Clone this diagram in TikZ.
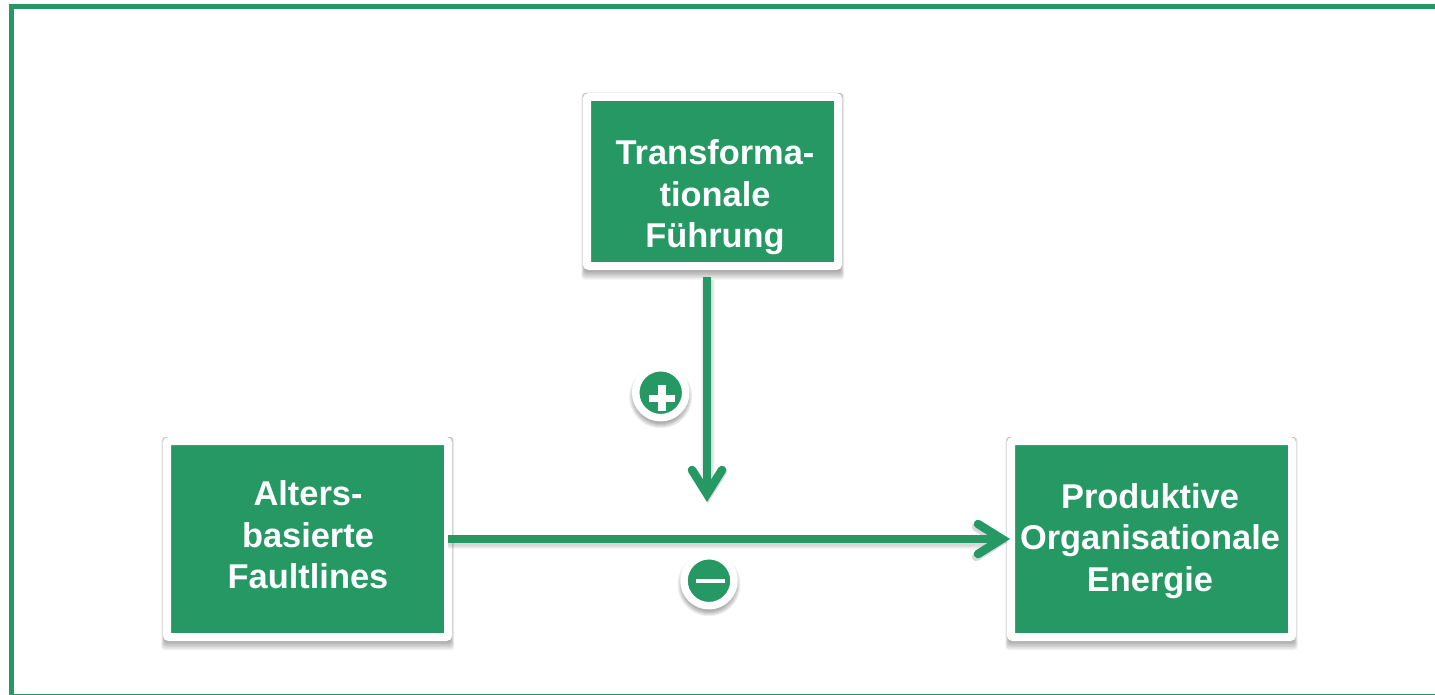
\documentclass[tikz,border=0pt]{standalone}
\usepackage{fontspec}
\setmainfont{Liberation Sans}
\usetikzlibrary{arrows.meta}
\definecolor{fg}{HTML}{269863}
\tikzset{
  x=1pt,y=-1pt,
  box/.style={fill=fg,draw=white,line width=8pt,rounded corners=2pt,inner sep=0pt,outer sep=4pt},
  boxtext/.style={text=white,font=\fontsize{34.4}{41.5}\selectfont\bfseries,align=center,inner sep=0pt},
  badge/.style={circle,fill=fg,draw=white,line width=7.5pt,minimum size=50pt,inner sep=0pt},
  conn/.style={draw=fg,line width=8pt,-{Straight Barb[length=24pt,width=30pt,line width=8.5pt,line cap=round,line join=miter]}},
  connshadow/.style={draw=black,opacity=.04,-{Straight Barb[length=24pt,width=30pt,line width=8.5pt,line cap=round,line join=miter]}},
  frameline/.style={draw=fg,line width=5.4pt},
  glyph/.style={fill=white,draw=none},
}
\newcommand{\softrect}[4]{%
  \foreach \d in {0,1,...,6}{
    \fill[black,opacity=.06,rounded corners=3pt] (#1+2-0.6*\d,#2) rectangle (#3-2+0.6*\d,#4+1.5*\d);
  }}
\newcommand{\softdisc}[3]{%
  \foreach \d in {-2,-1,...,3}{
    \fill[black,opacity=.06] (#1,#2+4) circle ({#3+\d});
  }}
\begin{document}
\begin{tikzpicture}
\useasboundingbox (0,0) rectangle (1435,695);
\fill[white] (0,0) rectangle (1435,695);
\draw[frameline] (11.3,6.8) rectangle (1445,697);

\softrect{583}{93}{842.5}{270.5}
\softrect{163}{437}{452.5}{641}
\softrect{1007}{437}{1296}{641}

\node[box,minimum width=251pt,minimum height=169pt] (top) at (712.5,181.5) {};
\node[box,minimum width=281pt,minimum height=196pt] (left) at (307.5,539) {};
\node[box,minimum width=281pt,minimum height=196pt] (right) at (1151.5,539) {};

\node[boxtext] (topT) at (715,197.5) {Transforma-\\tionale\\Führung};
\node[boxtext] (leftT) at (308,535) {Alters-\\basierte\\Faultlines};
\node[boxtext] (rightT) at (1150,541) {Produktive\\Organisationale\\Energie};

\coordinate (vtip) at (707,502);
\coordinate (vstart) at (707,277);
\coordinate (hstart) at (448,539);
\coordinate (htip) at (1010,539);

\foreach \w in {8,10,12,14}{
  \path[connshadow,line width=\w pt,shorten >=2pt] ([yshift=-3pt]hstart) -- ([yshift=-3pt]htip);
  \path[connshadow,line width=\w pt,shorten >=2pt] ([xshift=1pt,yshift=-3pt]vstart) -- ([xshift=1pt,yshift=-3pt]vtip);
}
\path[conn] (vstart) -- (vtip);
\path[conn] (hstart) -- (htip);

\softdisc{660.7}{392.7}{28.5}
\softdisc{709}{580.7}{28.5}
\node[badge] (plus) at (660.7,392.7) {};
\node[badge] (minus) at (709,580.7) {};
\fill[glyph] (649,394.5) rectangle (675,402);
\fill[glyph] (657.7,385) rectangle (666.4,411);
\fill[glyph] (696,579.3) rectangle (725,582.7);
\end{tikzpicture}
\end{document}
